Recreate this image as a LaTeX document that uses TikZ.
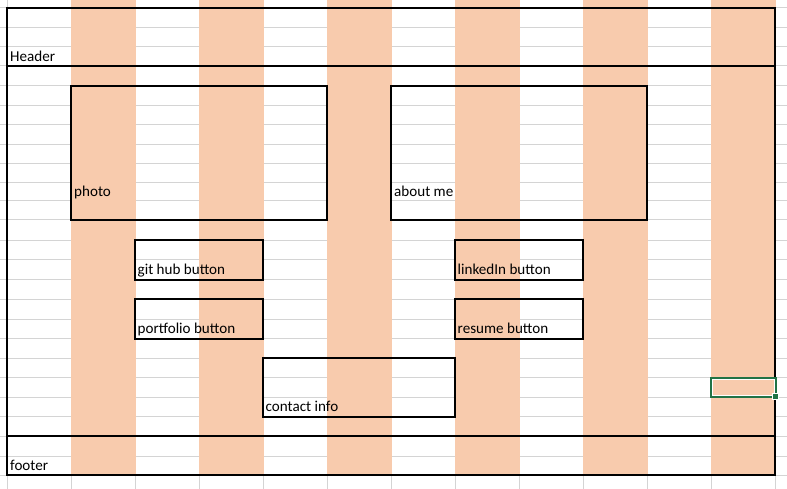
\documentclass[tikz,border=0pt]{standalone}
\usepackage{fontspec}
\setmainfont{Carlito}
\definecolor{gridgray}{HTML}{D4D4D4}
\definecolor{colorange}{HTML}{F8CBAD}
\definecolor{selgreen}{HTML}{217346}
\tikzset{
  gridline/.style={draw=gridgray, line width=1pt},
  bandfill/.style={fill=colorange},
  frame/.style={draw=black, line width=2pt},
  celltext/.style={anchor=base west, inner sep=0pt, font=\fontsize{15.1}{17}\selectfont, text=black},
}
\begin{document}
\begin{tikzpicture}[x=1pt,y=-1pt]
\useasboundingbox (0,0) rectangle (787,489);
% sheet gridlines
\foreach \y in {8,27.5,47,66,86,105.5,125,144.5,163.5,183,201,220,240,259.5,279.5,299,319,338.5,358,377.5,397,416.5,436,456,475}
  \draw[gridline] (0,\y) -- (787,\y);
\foreach \x in {7,71,...,775}
  \draw[gridline] (\x,0) -- (\x,489);
% shaded columns
\foreach \x in {71,199,...,711}
  \fill[bandfill] (\x-0.5,0) rectangle (\x+64.5,475);
% page frame with header and footer bands
\draw[frame] (7,8) rectangle (775,475);
\draw[frame] (7,66) -- (775,66);
\draw[frame] (7,436) -- (775,436);
% content blocks
\draw[frame] (71,86) rectangle (327,220);
\draw[frame] (391,86) rectangle (647,220);
\draw[frame] (135,240) rectangle (263,279.5);
\draw[frame] (455,240) rectangle (583,279.5);
\draw[frame] (135,299) rectangle (263,338.5);
\draw[frame] (455,299) rectangle (583,338.5);
\draw[frame] (263,358) rectangle (455,416.5);
% labels
\node[celltext] (header) at (10,61.5) {Header};
\node[celltext] (photo) at (74,196.5) {photo};
\node[celltext] (about) at (394,196.5) {about me};
\node[celltext] (github) at (137.5,274.5) {git hub button};
\node[celltext] (linkedin) at (457.5,274.5) {linkedIn button};
\node[celltext] (portfolio) at (137.5,333.5) {portfolio button};
\node[celltext] (resume) at (457.5,333.5) {resume button};
\node[celltext] (contact) at (265.5,411.5) {contact info};
\node[celltext] (footer) at (10,470.5) {footer};
% active cell selection
\draw[draw=white, line width=1pt] (712.5,379) rectangle (774.5,395);
\draw[draw=selgreen, line width=2pt] (711,377.5) rectangle (776,396.5);
\fill[white] (772,392.5) rectangle (779,399.5);
\fill[selgreen] (773,393.5) rectangle (778,398.5);
\end{tikzpicture}
\end{document}
